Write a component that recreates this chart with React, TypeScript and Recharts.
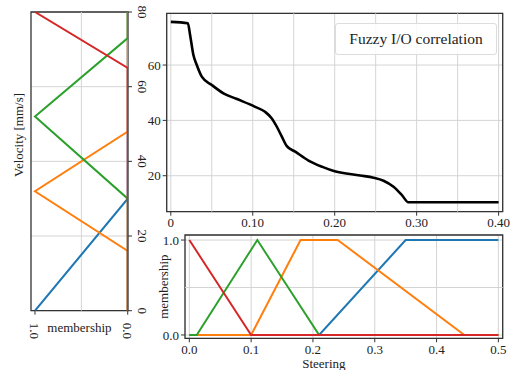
import React from 'react';
import { LineChart, Line, XAxis, YAxis, CartesianGrid, ReferenceLine, ReferenceArea, Label } from 'recharts';

const FONT = "'Liberation Serif', 'DejaVu Serif', serif";
const INK = '#222';
const FRAME = '#333';
const GRID = '#d4d4d4';
const BLUE = '#1f77b4';
const ORANGE = '#ff7f0e';
const GREEN = '#2ca02c';
const RED = '#d62728';

// velocity memberships (left panel, velocity runs up the page)
const velBlueV = [0, 30, 80];
const velBlueM = [1, 0, 0];
const velOrangeV = [0, 16, 32, 48, 80];
const velOrangeM = [0, 0, 1, 0, 0];
const velGreenV = [0, 30, 52, 73, 80];
const velGreenM = [0, 0, 1, 0, 0];
const velRedV = [0, 65, 80];
const velRedM = [0, 0, 1];
const velTicks = [0, 20, 40, 60, 80];
const velMemTicks = [0, 1];

// fuzzy i/o correlation curve
const corrSteer = [0, 0.0208, 0.0236, 0.0276, 0.0317, 0.0378, 0.05, 0.0642, 0.08, 0.1029, 0.115, 0.1233, 0.1294, 0.1355, 0.1416, 0.1518, 0.168, 0.185, 0.2, 0.2311, 0.2474, 0.2596, 0.2718, 0.282, 0.29, 0.4];
const corrVel = [75.6, 75.1, 70.8, 63.6, 60, 55.8, 52.8, 49.8, 47.8, 44.9, 43.1, 40.7, 37.7, 34.1, 30.7, 28.7, 25.5, 23.2, 21.6, 20.1, 19.3, 18.2, 16, 13, 10.4, 10.4];
const corrXTicks = [0, 0.1, 0.2, 0.3, 0.4];
const corrXMinor = [0.05, 0.15, 0.25, 0.35];
const corrYTicks = [20, 40, 60];

// steering memberships (bottom panel)
const stBlueS = [0, 0.21, 0.35, 0.5];
const stBlueM = [0, 0, 1, 1];
const stOrangeS = [0, 0.1, 0.18, 0.24, 0.445, 0.5];
const stOrangeM = [0, 0, 1, 1, 0, 0];
const stGreenS = [0, 0.012, 0.11, 0.21, 0.5];
const stGreenM = [0, 0, 1, 0, 0];
const stRedS = [0, 0.1, 0.5];
const stRedM = [1, 0, 0];
const stXTicks = [0, 0.1, 0.2, 0.3, 0.4, 0.5];
const stYTicks = [0, 1];

const zip = (xs: number[], ys: number[], kx: string, ky: string) =>
  xs.map((x, i) => ({ [kx]: x, [ky]: ys[i] }));

const velSeries = [
  { data: zip(velBlueV, velBlueM, 'v', 'm'), color: BLUE },
  { data: zip(velOrangeV, velOrangeM, 'v', 'm'), color: ORANGE },
  { data: zip(velGreenV, velGreenM, 'v', 'm'), color: GREEN },
  { data: zip(velRedV, velRedM, 'v', 'm'), color: RED },
];
const stSeries = [
  { data: zip(stBlueS, stBlueM, 's', 'm'), color: BLUE },
  { data: zip(stOrangeS, stOrangeM, 's', 'm'), color: ORANGE },
  { data: zip(stGreenS, stGreenM, 's', 'm'), color: GREEN },
  { data: zip(stRedS, stRedM, 's', 'm'), color: RED },
];
const corrData = zip(corrSteer, corrVel, 's', 'v');

const tickStyle = { fontSize: 13, fontFamily: FONT, fill: INK };

const VelTick = (props: any) => {
  const { x, y, payload } = props;
  return (
    <g transform={`translate(${x + 8},${y}) rotate(90)`}>
      <text textAnchor="middle" dominantBaseline="central" fontFamily={FONT} style={tickStyle}>{payload.value}</text>
    </g>
  );
};

const MemTick = (props: any) => {
  const { x, y, payload } = props;
  return (
    <g transform={`translate(${x},${y + 6}) rotate(90)`}>
      <text textAnchor="start" dominantBaseline="central" fontFamily={FONT} style={tickStyle}>{payload.value.toFixed(1)}</text>
    </g>
  );
};

const App: React.FC = () => {
  return (
    <div style={{ position: 'fixed', left: 0, top: 0, width: 511, height: 370, background: '#fff', fontFamily: FONT }}>
      {/* left: velocity membership */}
      <div style={{ position: 'absolute', left: 0, top: 0 }}>
        <LineChart width={170} height={345} margin={{ top: 12, right: 0, bottom: 0, left: 0 }} style={{ fontFamily: FONT }}>
          <CartesianGrid yAxisId="v" stroke={GRID} vertical={false} />
          <ReferenceLine yAxisId="v" x={0.5} stroke={GRID} />
          <XAxis
            dataKey="m" type="number" reversed domain={[-0.003, 1.043]} allowDataOverflow
            ticks={velMemTicks} tick={<MemTick />} tickSize={4} height={34.3}
            axisLine={false} tickLine={{ stroke: FRAME }}
          >
            <Label content={({ viewBox }: any) => (
              <text x={viewBox.x + viewBox.width / 2} y={viewBox.y + 17} textAnchor="middle" dominantBaseline="central" fontFamily={FONT} style={tickStyle}>membership</text>
            )} />
          </XAxis>
          <YAxis yAxisId="lab" orientation="left" width={31} domain={[0, 80]} tick={false} axisLine={false} tickLine={false}>
            <Label content={({ viewBox }: any) => (
              <text transform={`translate(${18},${viewBox.y + 123}) rotate(-90)`} textAnchor="middle" dominantBaseline="central" fontFamily={FONT} style={tickStyle}>Velocity [mm/s]</text>
            )} />
          </YAxis>
          <YAxis
            yAxisId="v" orientation="right" type="number" domain={[0, 80]} allowDataOverflow
            ticks={velTicks} tick={<VelTick />} tickSize={4} width={42}
            axisLine={false} tickLine={{ stroke: FRAME }}
          />
          <ReferenceArea yAxisId="v" x1={-0.003} x2={1.043} y1={0} y2={80} fill="none" stroke={FRAME} strokeWidth={1.3} fillOpacity={0} strokeOpacity={1} />
          {velSeries.map((s, i) => (
            <Line key={i} yAxisId="v" data={s.data} dataKey="v" stroke={s.color} strokeWidth={2} dot={false} isAnimationActive={false} />
          ))}
        </LineChart>
      </div>

      {/* top right: correlation */}
      <div style={{ position: 'absolute', left: 130, top: 0 }}>
        <LineChart width={381} height={235} margin={{ top: 13.3, right: 8.3, bottom: 0, left: 0 }} style={{ fontFamily: FONT }}>
          <CartesianGrid stroke={GRID} />
          {corrXMinor.map((x) => (
            <ReferenceLine key={x} x={x} stroke={GRID} />
          ))}
          <XAxis
            dataKey="s" type="number" domain={[-0.005, 0.405]} allowDataOverflow
            ticks={corrXTicks} tickFormatter={(v: number) => (v === 0 ? '0' : v.toFixed(2))}
            tick={tickStyle} tickSize={4} height={23.3} axisLine={false} tickLine={{ stroke: FRAME }}
          />
          <YAxis
            type="number" domain={[7, 78.7]} allowDataOverflow ticks={corrYTicks}
            tick={tickStyle} tickSize={4} width={36.7} axisLine={false} tickLine={{ stroke: FRAME }}
          />
          <ReferenceArea x1={-0.005} x2={0.405} y1={7} y2={78.7} fill="none" stroke={FRAME} strokeWidth={1.3} fillOpacity={0} strokeOpacity={1} />
          <Line data={corrData} dataKey="v" stroke="#000" strokeWidth={2.6} dot={false} type="monotone" isAnimationActive={false} />
        </LineChart>
      </div>
      <div style={{
        position: 'absolute', left: 335, top: 23, width: 162, height: 32, boxSizing: 'border-box',
        border: '1px solid #dcdcdc', borderRadius: 3, background: 'rgba(255,255,255,0.85)',
        display: 'flex', alignItems: 'center', justifyContent: 'center',
        fontFamily: FONT, fontSize: 15.5, color: INK,
      }}>
        Fuzzy I/O correlation
      </div>

      {/* bottom right: steering membership */}
      <div style={{ position: 'absolute', left: 130, top: 225 }}>
        <LineChart width={381} height={145} margin={{ top: 10, right: 8.3, bottom: 0, left: 0 }} style={{ fontFamily: FONT }}>
          <CartesianGrid stroke={GRID} />
          <ReferenceLine y={0.5} stroke={GRID} />
          <XAxis
            dataKey="s" type="number" domain={[-0.007, 0.507]} allowDataOverflow
            ticks={stXTicks} tickFormatter={(v: number) => v.toFixed(1)}
            tick={tickStyle} tickSize={4} height={31.7} axisLine={false} tickLine={{ stroke: FRAME }}
          >
            <Label content={({ viewBox }: any) => (
              <text x={viewBox.x + viewBox.width / 2 - 20} y={viewBox.y + 25.5} textAnchor="middle" dominantBaseline="central" fontFamily={FONT} style={tickStyle}>Steering</text>
            )} />
          </XAxis>
          <YAxis
            type="number" domain={[-0.035, 1.053]} allowDataOverflow ticks={stYTicks}
            tickFormatter={(v: number) => v.toFixed(1)}
            tick={tickStyle} tickSize={4} width={55} axisLine={false} tickLine={{ stroke: FRAME }}
          >
            <Label content={({ viewBox }: any) => (
              <text transform={`translate(${viewBox.x + 33},${viewBox.y + viewBox.height / 2}) rotate(-90)`} textAnchor="middle" dominantBaseline="central" fontFamily={FONT} style={tickStyle}>membership</text>
            )} />
          </YAxis>
          <ReferenceArea x1={-0.007} x2={0.507} y1={-0.035} y2={1.053} fill="none" stroke={FRAME} strokeWidth={1.3} fillOpacity={0} strokeOpacity={1} />
          {stSeries.map((s, i) => (
            <Line key={i} data={s.data} dataKey="m" stroke={s.color} strokeWidth={2} dot={false} isAnimationActive={false} />
          ))}
        </LineChart>
      </div>
    </div>
  );
};

export default App;
